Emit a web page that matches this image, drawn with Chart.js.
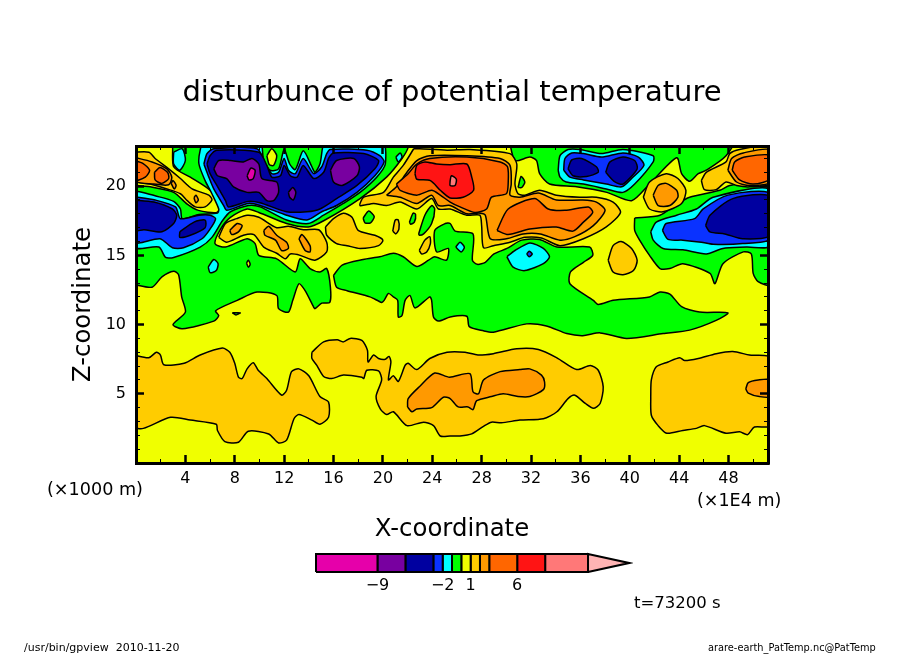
<!DOCTYPE html>
<html><head><meta charset="utf-8">
<style>html,body{margin:0;padding:0;background:#fff;width:904px;height:654px;overflow:hidden}
canvas{position:absolute;left:0}</style>
<script src="https://cdn.jsdelivr.net/npm/chart.js@4"></script></head>
<body>
<canvas id="main" width="904" height="654" style="top:0"></canvas>
<canvas id="bar" width="904" height="60" style="top:540px"></canvas>
<script>
// ---- contour outlines in data units (x, z, x, z, ...) -------------------
const plotBase=[-1,-1,52,-1,52,24,-1,24];
const greenLeft=[-0.2,12.9,1.3,12.7,2.1,13.45,3.05,13.85,3.45,13.6,3.7,12,4,10.9,3,10,3.75,9.7,6.3,10.25,6.7,10.65,6.45,11,8.2,11.75,9.8,12.35,11.4,12.1,11.55,11.15,12.35,10.9,12.7,11.75,13.2,12.95,13.7,12.45,14.4,11.25,14.5,11.15,15.05,11.55,15.7,11.6,15.75,12.7,15.45,14.05,14.9,13.8,14.1,14.05,13.3,14.75,12.9,13.8,11.4,14.75,9.95,15,9.65,15.85,9,16.2,7.25,15.6,6.4,15.85,6.85,16.9,7.65,17.75,9,18.35,9.95,18.1,12.2,17.3,13.95,17.05,15.2,17.5,18.15,19.1,20.3,20.65,21.55,22,22.05,22.8,22.1,23.5,-0.2,23.5];
const greenCentre=[16,13.55,16.7,14.3,18.4,14.7,19.75,14.9,20.85,15.15,21.65,14.9,22.75,14.2,23.7,14.65,24.2,14.9,25.15,14.65,25.3,15.5,24.35,15.25,24.2,16.8,25.05,17.3,25.45,17.3,25.85,16.75,27.3,16.55,27.25,14.65,27.65,14.35,28.3,14.5,29,15.1,30.05,15.5,31.25,16.1,32.7,16.15,34.1,15.6,36.75,15.6,37,15,36.25,14.5,35.2,13.8,35.15,12.95,37.05,11.75,37.45,11.45,38.65,11.75,41.6,12,42.45,12.35,43.25,12.2,44.2,11.3,45.65,10.9,47.95,10.85,47,10.3,44.85,9.6,42.7,9.35,39.75,9,37.6,9.4,36.2,9.2,34.9,9.35,33.25,9.9,31.65,10.05,28.95,9.45,28.15,9.55,27,9.85,26.8,10.6,25.45,10.55,24.5,10.25,24.1,10.55,23.95,11.75,23.8,12,22.6,11.2,22.2,12.1,21.8,11.75,21.55,10.65,21.25,10.55,21.2,11.75,20.85,12,20.45,12.25,20.1,11.75,19.9,11.6,19.65,11.7,18.95,12,17.1,12.45,16.25,12.7];
const greenRight=[40.4,17.7,42.45,17.9,43.8,18.7,44.85,19.2,47.3,19.7,48.1,20.05,51.4,20.3,51.4,12.9,50.4,13.1,50,13.7,49.85,15.1,49.2,15.25,47.55,14.4,46.9,12.95,46.5,13.7,44.3,14.4,43.25,14.05,42.45,14.05,41.6,15,40.8,16.1,40.4,16.8];
const greenTop=[30.2,23.5,30.7,21.85,31.9,22.1,32.45,21.85,32.7,20.9,33.5,20.15,35.7,19.95,38.15,19.55,40.15,18.95,41.6,20.15,43.8,22.05,44.2,20.9,44.85,20.35,45.55,20.9,46.2,21.15,47.8,22.2,48.5,23.5];
const yellowTopLeft=[-0.2,23.5,2.8,23.5,3.05,21.4,4.4,20.65,6,19.7,6.8,18.6,6.55,18.1,5.05,18.25,4.15,18.7,3.05,19.55,1.15,19.95,-0.2,20.2];
const goldTopLeft=[-0.2,22.45,1.05,22.45,1.55,22,2.65,21.25,3.6,20.55,4.55,19.8,5.9,19.35,6.15,19,5.6,18.5,4.8,18.5,4.15,18.95,3.6,19.45,2.5,19.8,1.15,20.15,-0.2,20.45];
const orangeTopLeft=[-0.2,22.1,1.3,21.75,2.5,21.25,2.9,20.65,2.65,20.1,1.45,20.15,-0.2,20.4];
const darkTopLeft=[-0.2,21.85,0.55,21.65,1.1,21.15,0.75,20.65,-0.2,20.4];
const darkCircle=[1.5,21,1.95,21.35,2.55,21,2.65,20.55,2.1,20.2,1.55,20.45];
const orangeDotA=[2.85,20.2,3,20.4,3.25,20.05,3.1,19.8];
const orangeDotB=[4.7,19.15,4.85,19.35,5.05,19,4.85,18.8];
const cyanBig=[-0.2,19.7,1.55,19.3,3.05,18.9,3.6,18.35,3.75,17.65,5.1,17.95,6.6,18.05,6.7,18.35,6.15,19.45,5.6,20.4,5.1,21.6,5.2,22.6,5.6,23.5,9.95,23.5,10.35,21.85,10.85,21.15,11.55,21.25,12,22.65,12.45,21.6,12.9,21.2,13.55,22.55,14.25,21.4,14.5,21,14.9,21.6,15.45,23.5,19.9,23.5,20.2,21.6,19.5,20.65,18.15,19.55,16.8,18.75,15.2,17.9,13.95,17.3,12.2,17.55,10.05,18.5,9.1,18.6,7.65,18.15,7,17.5,6.15,16.3,5.2,15.6,3.05,14.85,2.4,14.85,1.85,15.6,-0.2,15.6];
const blueLeft=[-0.2,19.25,1.55,19,3.2,18.5,3.6,17.65,5.1,17.9,6,17.9,6.45,17.65,6,16.9,5.35,16.2,3.85,15.55,2.95,15.55,1.95,16.2,-0.2,15.95];
const blueTop=[5.5,21.6,5.75,22.35,6.3,22.7,9.8,22.7,10.5,21.6,11,20.9,11.55,21,12,22,12.35,21.15,12.9,20.9,13.55,22,14.4,20.9,15.05,21.4,15.45,22.35,15.75,22.65,18.7,22.6,19.75,22.2,20.1,21.75,19.35,20.75,17.9,19.55,16.25,18.6,15.05,18.15,13.85,17.55,12.2,17.9,10.05,18.6,9.1,18.75,7.35,18.25,7.1,18.6,6.3,19.8,5.9,20.65];
const navyTop=[5.75,21.6,6,22.2,6.55,22.6,9.95,22.45,10.6,21.5,11,20.65,11.7,20.75,12,21.5,12.5,20.75,13.05,20.65,13.55,21.5,14.4,20.55,15.2,21,15.6,22,16,22.4,18.45,22.35,19.65,21.85,19.35,21.25,17.9,20.05,16.25,19.1,14.9,18.35,13.85,18.15,12.2,18.15,10.05,18.8,9.1,18.9,7.5,18.5,7.25,18.95,6.55,20.05,6,20.9];
const purpleA=[6.3,21.25,6.7,21.85,7.65,21.85,8.7,21.75,9.4,22,9.95,21.6,10.2,20.55,11.4,20.3,11.55,19.55,11.15,18.95,10.6,18.95,9.95,19.55,9,19.55,7.9,19.95,7.35,20.55,6.6,20.75];
const purpleB=[15.75,21.15,16.25,21.85,17.65,22,18.1,21.4,17.9,20.75,16.7,20.05,16,20.3];
const purpleC=[12.35,19.55,12.7,19.9,12.95,19.55,12.75,19,12.45,19.2];
const magentaA=[9,20.75,9.3,21.3,9.65,21.15,9.5,20.55,9.15,20.45];
const navyLeftA=[-0.2,19,1.45,18.85,2.95,18.35,3.3,17.9,3.05,17.3,2.1,16.7,0.65,16.85,-0.2,16.8];
const navyLeftB=[3.55,16.7,4.7,17.4,5.6,17.55,5.6,17,4.4,16.45,3.55,16.3];
const cyanIsleA=[3.05,22.45,3.75,22.7,4,21.85,3.55,21.15,3.05,21.6];
const cyanIsleB=[21.05,22.1,21.4,22.4,21.55,22.1,21.25,21.75];
const cyanIsleC=[5.85,14.15,6.3,14.7,6.65,14.4,6.5,13.9,6,13.75];
const cyanIsleD=[25.9,15.6,26.25,15.95,26.6,15.6,26.35,15.25];
const yellowDotA=[8.95,14.45,9.1,14.65,9.25,14.35,9.1,14.15];
const yellowDotB=[10.6,22.2,11,22.7,11.4,22.2,11.15,21.5,10.8,21.55];
const goldMidLeft=[6.7,16.3,7.25,17.3,8.15,17.65,9,17.9,9.95,17.75,11.4,17,12.35,17.1,13.55,16.85,14.8,16.85,15.45,15.95,15.45,15.25,14.5,14.65,13.3,15,12.5,15.1,12.1,14.75,11.4,15.15,10.35,15.6,9.55,16.5,8.7,16.45,7.35,15.95];
const orangeMidA=[7.6,16.8,8.2,17.3,8.6,17.15,8.3,16.7,7.75,16.5];
const orangeMidB=[10.35,16.8,10.75,17.1,11.4,16.45,12.2,15.95,12.35,15.5,11.8,15.35,11.3,16.1,10.45,16.45];
const orangeMidC=[13.2,16.2,13.45,16.5,14.1,15.7,14.1,15.25,13.7,15.35];
const goldMidB=[15.35,17.05,16,17.65,16.8,18.05,17.5,17.75,18,16.8,19.35,16.45,20,16.1,19.65,15.7,18.15,15.5,17.1,15.7,16.25,15.85,15.45,16.45];
const greenIsleA=[18.4,17.7,18.85,18.2,19.3,17.8,19,17.35,18.55,17.35];
const greenIsleB=[22.15,17.4,22.45,18.05,22.65,17.95,22.55,17.4,22.25,17.25];
const greenIsleC=[22.9,16.55,23.4,17.9,23.95,18.6,24.2,18.35,23.95,17.3,23.3,16.55,22.95,16.45];
const greenIsleD=[30.95,19.9,31.2,20.7,31.5,20.3,31.25,19.9];
const greenDash=[7.8,10.85,8.45,10.85,8.1,10.7];
const goldDotA=[20.8,16.75,21,17.55,21.25,17.55,21.3,16.9,21.05,16.55];
const goldDotB=[22.95,15.35,23.4,16.1,23.8,16.35,23.85,15.85,23.55,15.25,23.15,15.1];
const goldCentre=[22.5,22.7,23,22.7,25.2,22.6,27.05,22.65,30.3,22.35,30.85,21.6,30.7,20.15,30.95,19.45,31.5,19.35,32.7,19.7,34.05,19.35,35.95,19.2,37.3,19.2,38.65,18.85,39.25,18.1,38.1,17.05,36.25,16.2,34.35,15.7,32.85,16.25,31.5,16.3,30.3,15.95,28.95,15.7,28.15,15.55,28,17.15,27.85,17.9,26.8,17.9,25.45,18.35,24.5,18.35,23.95,19.1,22.75,18.35,21.4,18.85,20.3,18.6,19.25,18.75,18.15,18.6,18.45,19.2,20.05,19.55,20.85,20.65,21.65,21.5];
const orangeCentre=[20.3,19.35,21.1,19.95,21.95,21,22.75,21.85,23.8,22.2,26.8,22.2,29.5,22,30.3,21.5,30.4,20.15,30.3,19.35,31.1,19.2,32.6,19.5,34.05,19,36.2,19,37.3,18.85,38,18.25,37.05,17.15,35.55,16.35,34.35,16.1,32.75,16.55,31.35,16.55,30,16.2,28.7,16.2,28.3,17.9,27.85,18.05,26.8,18,25.45,18.6,24.5,18.6,23.95,19.35,22.75,18.75,21.4,19.2];
const darkCentre=[21.1,20.15,22.05,20.9,22.75,21.6,23.8,22,26.8,22.1,29.5,21.75,30.1,21.4,30.15,20.15,30,19.45,28.8,19.2,28.4,18.35,27.45,18.1,26.25,18.5,25.45,18.85,24.65,19.35,23.95,19.7,22.75,19.35,21.4,19.7];
const redCentre=[22.6,20.9,22.75,21.5,23.4,21.75,24.35,21.6,25.45,21.55,26.8,21.6,27.2,20.65,27.35,19.7,26.5,19.2,25.45,19.15,24.65,19.7,23.85,20.4,22.75,20.5];
const salmonCentre=[25.45,20.4,25.55,20.75,25.95,20.5,25.85,20.05,25.45,20.05];
const darkLower=[29.25,16.8,30.15,18.35,32.3,19.1,33.4,18.35,34.75,18.25,36.65,18.5,37,18.1,36.25,17.4,35.4,16.75,34.05,17.05,31.9,16.9,30.15,16.5];
const cyanBlob=[30.05,14.9,30.7,15.35,31.9,15.9,33,15.5,33.5,14.9,33,14.4,31.5,13.9,30.55,14.15];
const blueDot=[31.65,15.1,31.85,15.3,32.1,15.1,31.85,14.9];
const cyanUpper=[34.2,21.15,34.35,22.2,35,22.65,35.95,22.65,37.7,22.35,39.45,22.65,41.9,22.2,41.9,21.75,40.4,20.15,39.45,19.55,38.1,19.8,36.25,20.15,34.85,20.3,34.35,20.65];
const blueUpper=[34.65,21.15,34.75,22,35.3,22.4,36.25,22.35,37.7,22.1,39.45,22.4,40.7,22.1,41.15,21.5,40.15,20.55,39.35,19.95,38.1,20.15,36.25,20.45,35.15,20.65];
const navyUpperA=[35,21.25,35.3,21.9,36.1,22,37.3,21.4,37.45,21,36.5,20.7,35.4,20.75];
const navyUpperB=[38.05,21,38.4,21.75,39.45,22.1,40.4,21.85,40.6,21.25,39.45,20.15,38.8,20.3];
const goldRightBlob=[41.1,19.2,41.6,20.3,42.95,20.9,43.9,20.55,44.55,19.7,44.2,18.75,42.7,18.15,41.6,18.35];
const orangeRightBlob=[41.9,19.35,42.3,20.05,42.95,20.2,43.8,19.7,43.9,19.2,43.25,18.6,42.3,18.6];
const goldLowBlob=[38.25,14.65,38.65,15.7,39.3,16,40.15,15.5,40.6,14.65,40.3,13.9,39.45,13.6,38.65,13.8];
const goldTopRight=[45.8,20.4,46.2,21,47.8,21.75,48.1,22.35,48.9,22.65,51.4,22.85,51.4,20.2,49.7,19.95,48.65,20.05,47.8,20.3,47,19.75,46.05,19.75];
const orangeTopRight=[47.95,21.15,48.25,22,49.2,22.4,51.4,22.6,51.4,20.3,49.7,20.05,48.65,20.3];
const darkTopRight=[48.3,21.15,48.5,21.75,49.3,22.1,51.4,22.2,51.4,20.55,50,20.15,48.9,20.45];
const cyanRight=[41.7,16.7,42.15,17.4,43.8,17.9,45.4,18.35,46.75,19.2,51.4,19.75,51.4,15.7,49.45,15.6,47.55,15.5,46.2,15.1,44.3,15.4,42.7,15.5,41.9,16.1];
const blueRight=[42.65,16.8,42.95,17.3,45.25,17.65,45.95,18.35,47.95,19.35,51.4,19.45,51.4,16.2,49.15,15.85,46.75,15.8,45.8,15.95,44.3,16.1,43.1,16.15];
const navyRight=[46.15,17.15,46.5,17.9,48.35,19.1,51.4,19.25,51.4,16.45,49.15,16.2,47.7,16.55,46.5,16.7];
const goldLowLeft=[-0.2,7.8,1.03,7.6,1.65,8,1.98,7.8,2.25,7.1,3.9,7.2,5.2,7.8,7,8.3,7.6,8,8,7.2,8.3,6.2,8.6,6.1,9,6.8,9.5,7.25,9.9,6.7,10.6,6.1,11.8,4.9,12.2,5.25,12.6,6.6,13.2,6.8,14,6.3,14.9,4.8,15.6,4.4,15.6,3.3,14.9,2.8,14.25,3.1,13.2,3.5,12.8,3.2,12.2,1.65,11.55,1.45,10.75,2.1,9.1,2.3,8.3,1.5,7.2,1.55,6.6,2.35,6.5,2.8,4.4,3.1,2.8,3.3,0.6,2.5,-0.2,2.65];
const goldLowCentre=[14.25,8,15.2,8.75,16.3,8.9,16.8,8.75,17.35,9,18.3,8.85,18.75,8.15,18.8,7.3,19.25,7.8,19.65,7.55,20.2,7.5,20.5,7.7,20.65,7.3,20.45,6,20.85,6.3,21.25,5.9,21.8,7.05,22.05,7.2,22.75,6.75,23.8,7.55,25.2,8,26.65,8,27.7,7.8,28.95,7.9,30.85,8.25,32.6,8.2,34.1,7.6,35.7,6.75,36.8,7.05,37.45,6.7,37.85,5.5,37.6,4.3,37.05,3.95,36.4,4.3,35.55,4.9,35,4.65,34.1,3.7,33,3.2,31.1,3.1,29.6,2.9,28.8,2.95,28.15,2.65,27.2,2.1,26.25,1.95,25.45,1.95,24.65,1.95,24.1,2.7,23.3,2.95,21.95,2.7,20.85,3.7,20.3,3.5,19.8,3.9,19.45,4.8,19.9,6,19.65,6.65,18.7,6.7,18.45,6.1,18.3,6.2,16.8,6.35,15.85,6.1,15.2,6.25,14.65,7.05,14.25,7.55];
const orangeLowCentre=[22,4.05,22.05,4.65,23,5.55,24.2,6.5,25.4,6.2,27.05,6.45,27.3,5.15,27.75,5,28.15,6,29.5,6.6,31.1,6.75,31.9,6.8,32.85,6.35,33.1,5.85,33,5.3,31.9,4.8,30.95,4.8,29.75,5,28.8,4.8,27.6,4.5,27.3,3.85,26.9,4.05,26.1,4.05,25.45,4.65,24.9,4.75,23.95,4,22.75,3.9,22.35,3.7];
const goldLowRight=[41.7,4.8,41.75,6,42.15,6.95,43.1,7.3,44.05,7.6,44.45,7.4,45.55,7.55,47,7.9,48.35,8.05,49.7,7.8,51.4,7.6,51.4,2.7,50.1,2.6,49.55,2.05,48.9,2.25,47.8,2.15,46.05,2.7,45.4,2.5,44.3,2.35,43,2.15,42.3,2.7,41.75,3.45];
const orangeLowRight=[49.4,5.35,49.6,5.8,50.4,6,51.4,6,51.4,4.8,50.5,4.8,49.6,5.05];

// ---- colour levels --------------------------------------------------------
const levelBounds=[-15.6,-9,-6,-3,-2,-1,0,1,2,3,6,9,13.6];
const levelColors=['#e600aa','#7800a0','#0000a0','#0a32ff','#00ffff','#00ff00','#f0ff00','#ffcc00','#ff9900','#ff6600','#ff1414','#ff7878'];
const overflowTip=18, overflowColor='#ffb4b4';
const barLabels=[-9,-2,1,6];
const [MAG,PUR,NAV,BLU,CYA,GRN,YEL,GLD,ORG,DRK,RED,SAL]=levelColors;

// ---- painting order, back to front
const layers=[
[plotBase,YEL],[greenLeft,GRN],[greenCentre,GRN],[greenRight,GRN],[greenTop,GRN],[greenDash,GRN],
[goldLowLeft,GLD],[goldLowCentre,GLD],[orangeLowCentre,ORG],[goldLowRight,GLD],[orangeLowRight,ORG],
[yellowTopLeft,YEL],[goldTopLeft,GLD],[orangeTopLeft,ORG],[darkTopLeft,DRK],[darkCircle,DRK],[orangeDotA,ORG],[orangeDotB,ORG],
[cyanBig,CYA],[blueLeft,BLU],[blueTop,BLU],[navyTop,NAV],[purpleA,PUR],[purpleB,PUR],[purpleC,PUR],[magentaA,MAG],
[navyLeftA,NAV],[navyLeftB,NAV],[cyanIsleA,CYA],[cyanIsleB,CYA],[cyanIsleC,CYA],[cyanIsleD,CYA],[yellowDotA,YEL],[yellowDotB,YEL],
[goldMidLeft,GLD],[orangeMidA,ORG],[orangeMidB,ORG],[orangeMidC,ORG],[goldMidB,GLD],[greenIsleA,GRN],[greenIsleB,GRN],[greenIsleC,GRN],[greenIsleD,GRN],[goldDotA,GLD],[goldDotB,GLD],
[goldCentre,GLD],[orangeCentre,ORG],[darkCentre,DRK],[redCentre,RED],[salmonCentre,SAL],[darkLower,DRK],
[cyanBlob,CYA],[blueDot,BLU],[cyanUpper,CYA],[blueUpper,BLU],[navyUpperA,NAV],[navyUpperB,NAV],
[goldRightBlob,GLD],[orangeRightBlob,ORG],[goldLowBlob,GLD],[goldTopRight,GLD],[orangeTopRight,ORG],[darkTopRight,DRK],
[cyanRight,CYA],[blueRight,BLU],[navyRight,NAV]
];

Chart.defaults.font.family='"DejaVu Sans"';
Chart.defaults.color='#000';

function toPts(a){const p=[];for(let i=0;i<a.length;i+=2)p.push({x:a[i],y:a[i+1]});p.push({x:a[0],y:a[1]});return p;}
const datasets=layers.map(([arr,col],i)=>({
  data:toPts(arr),showLine:true,fill:'shape',backgroundColor:col,
  borderColor:i===0?'rgba(0,0,0,0)':'#000',borderWidth:1.5,tension:0.25,pointRadius:0,order:layers.length-i
}));

const XMAX=51.2,YMAX=22.9;
function tickAxis(pos,min,max,step,len,width){
  return {type:'linear',position:pos,min,max,weight:0,
    afterFit:s=>{s.width=s.isHorizontal()?s.width:0;s.height=s.isHorizontal()?0:s.height;},
    ticks:{display:false,stepSize:step,includeBounds:false},
    border:{display:false},
    grid:{drawOnChartArea:false,drawTicks:true,tickLength:-len,tickWidth:width,tickColor:'#000',z:1}};
}
function frameAxis(pos,min,max,step,size,opts){
  const horiz=pos==='top'||pos==='bottom';
  return Object.assign({type:'linear',position:pos,min,max,weight:1,
    afterFit:s=>{if(horiz)s.height=size;else s.width=size;},
    ticks:{display:false,stepSize:step,includeBounds:false},
    border:{display:true,color:'#000',width:3,z:2},
    grid:{drawOnChartArea:false,drawTicks:true,tickLength:-8,tickWidth:2.5,tickColor:'#000',z:1}},opts||{});
}
const hideZero=v=>v===0?'':v;
const notes=[
 {t:'(×1000 m)',x:47,y:490,f:17.6},
 {t:'(×1E4 m)',x:697,y:501,f:17.5},
 {t:'t=73200 s',x:634,y:604,f:16.5},
 {t:'/usr/bin/gpview  2010-11-20',x:24,y:648,f:11},
 {t:'arare-earth_PatTemp.nc@PatTemp',x:708,y:648,f:9.8}
];
new Chart(document.getElementById('main'),{
  type:'scatter',
  data:{datasets},
  options:{
    responsive:false,animation:false,devicePixelRatio:1,
    layout:{autoPadding:false,padding:0},
    plugins:{legend:{display:false},tooltip:{enabled:false},
      title:{display:true,text:'disturbunce of potential temperature',font:{size:29,weight:'normal'},color:'#000',padding:{top:75.6,bottom:8}}},
    scales:{
      x:frameAxis('bottom',0,XMAX,4,191,{
        ticks:{display:true,stepSize:4,includeBounds:false,padding:14,font:{size:16},maxRotation:0,autoSkip:false,callback:hideZero},
        title:{display:true,text:'X-coordinate',font:{size:24.4},color:'#000',padding:{top:0,bottom:110}}}),
      xMinor:tickAxis('bottom',0,XMAX,2,4,1),
      xTop:frameAxis('top',0,XMAX,4,27.6),
      xTopMinor:tickAxis('top',0,XMAX,2,4,1),
      y:frameAxis('left',0,YMAX,5,136,{
        ticks:{display:true,stepSize:5,includeBounds:false,padding:18,font:{size:16},autoSkip:false,callback:hideZero},
        title:{display:true,text:'Z-coordinate',font:{size:24.4},color:'#000',padding:{top:69,bottom:0}}}),
      yMinor:tickAxis('left',0,YMAX,1,4,1),
      yRight:frameAxis('right',0,YMAX,5,136),
      yRightMinor:tickAxis('right',0,YMAX,1,4,1)
    }
  },
  plugins:[{id:'notes',afterDraw(c){const g=c.ctx;g.save();g.fillStyle='#000';g.textBaseline='middle';g.textAlign='left';
    notes.forEach(n=>{g.font=n.f+'px "DejaVu Sans"';g.fillText(n.t,n.x,n.y);});g.restore();}}]
});

// ---- colour bar: rectangles built from levelBounds ----------------------
const barSets=levelColors.map((col,i)=>({
  data:toPts([levelBounds[i],0,levelBounds[i+1],0,levelBounds[i+1],1,levelBounds[i],1]),
  showLine:true,fill:'shape',backgroundColor:col,borderColor:'#000',borderWidth:2,pointRadius:0,clip:4
}));
const topB=levelBounds[levelBounds.length-1];
barSets.push({data:toPts([topB,0,overflowTip,0.5,topB,1]),showLine:true,fill:'shape',backgroundColor:overflowColor,borderColor:'#000',borderWidth:2,pointRadius:0,clip:4});
new Chart(document.getElementById('bar'),{
  type:'scatter',data:{datasets:barSets},
  options:{responsive:false,animation:false,devicePixelRatio:1,
    layout:{autoPadding:false,padding:{left:316,right:275,top:14,bottom:0}},
    plugins:{legend:{display:false},tooltip:{enabled:false}},
    scales:{
      x:{type:'linear',min:levelBounds[0],max:overflowTip,
        afterFit:s=>{s.height=28;},
        afterBuildTicks:s=>{s.ticks=barLabels.map(v=>({value:v}));},
        border:{display:false},
        grid:{display:false,drawTicks:false},
        ticks:{padding:4.5,font:{size:16},maxRotation:0,autoSkip:false,callback:v=>String(v).replace('-','−')}},
      y:{type:'linear',min:0,max:1,display:false}
    }}
});
</script>
</body></html>
